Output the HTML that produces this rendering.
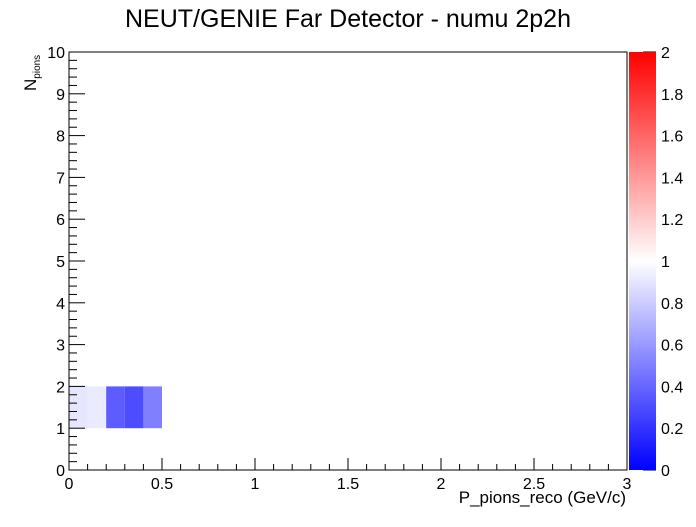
<!DOCTYPE html>
<html><head><meta charset="utf-8"><style>body{margin:0;background:#fff}svg{font-family:"Liberation Sans",sans-serif}</style></head>
<body>
<svg id="c" width="696" height="522">
<defs><linearGradient id="g" x1="0" y1="1" x2="0" y2="0"><stop offset="0" stop-color="#0000ff"/><stop offset="0.5" stop-color="#ffffff"/><stop offset="1" stop-color="#ff0000"/></linearGradient></defs>
<text x="348" y="27" font-size="25" text-anchor="middle">NEUT/GENIE Far Detector - numu 2p2h</text>
<g id="cells"></g>
<rect x="69" y="52" width="558" height="418" fill="none" stroke="#000"/>
<g id="axes" stroke="#000"></g>
<g id="labels" font-size="16"></g>
<rect x="629" y="52" width="27" height="418" fill="url(#g)"/>
<text x="626" y="503" font-size="17" text-anchor="end">P_pions_reco (GeV/c)</text>
<text transform="translate(36,91) rotate(-90)" font-size="17">N<tspan font-size="10" dy="4">pions</tspan></text>
</svg>
<script>
const xBins=[0,0.1,0.2,0.3,0.4];
const yBins=[1,1,1,1,1];
const values=[0.9,0.92,0.36,0.3,0.5];
const xTicks=["0","0.5","1","1.5","2","2.5","3"];
const yTicks=["0","1","2","3","4","5","6","7","8","9","10"];
const zTicks=["0","0.2","0.4","0.6","0.8","1","1.2","1.4","1.6","1.8","2"];
const X=v=>69+v*186, Y=v=>470-v*41.8, Z=v=>470-v*209;
const NS="http://www.w3.org/2000/svg";
function mk(t,a,p){const e=document.createElementNS(NS,t);for(const k in a)e.setAttribute(k,a[k]);p.appendChild(e);return e;}
function col(v){if(v<=1){const c=Math.round(255*v);return `rgb(${c},${c},255)`;}const c=Math.round(255*(2-v));return `rgb(255,${c},${c})`;}
const cells=document.getElementById('cells'),ax=document.getElementById('axes'),lb=document.getElementById('labels');
values.forEach((v,i)=>{const r=mk('rect',{x:X(xBins[i]),y:Y(yBins[i]+1),width:X(xBins[i]+0.1)-X(xBins[i]),height:Y(yBins[i])-Y(yBins[i]+1),fill:col(v)},cells);

});
for(let i=0;i<=30;i++){const x=X(i*0.1),L=i%5==0?12:6;mk('line',{x1:x,x2:x,y1:470,y2:470-L},ax);}
for(let i=0;i<=50;i++){const y=Y(i*0.2),L=i%5==0?16:8;mk('line',{x1:69,x2:69+L,y1:y,y2:y},ax);}
zTicks.forEach((t,i)=>{const y=Z(+t);mk('line',{x1:643,x2:656,y1:y,y2:y},ax);
const e=mk('text',{x:661,y:y+6},lb);e.textContent=t;

});
xTicks.forEach(t=>{const e=mk('text',{x:X(+t),y:489,'text-anchor':'middle'},lb);e.textContent=t;

});
yTicks.forEach(t=>{const e=mk('text',{x:65,y:Y(+t)+6,'text-anchor':'end'},lb);e.textContent=t;

});
</script>
</body></html>
